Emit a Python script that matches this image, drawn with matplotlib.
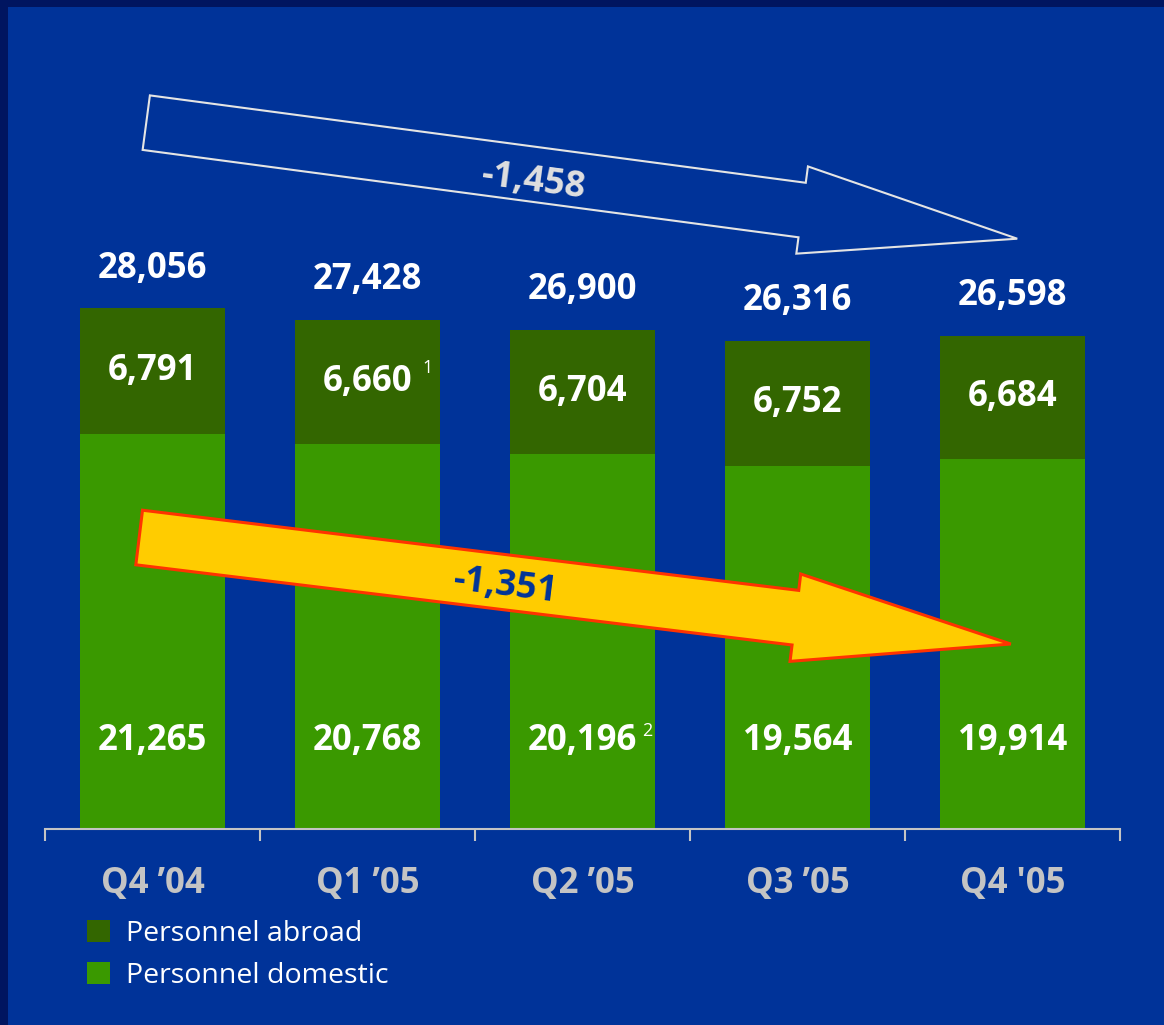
import numpy as np
import matplotlib
matplotlib.use("Agg")
import matplotlib.pyplot as plt
from matplotlib.patches import Rectangle, Polygon, Patch
from matplotlib.transforms import IdentityTransform

# Headcount per quarter
quarters = ['Q4 \u201904', 'Q1 \u201905', 'Q2 \u201905', 'Q3 \u201905', "Q4 '05"]
domestic = [21265, 20768, 20196, 19564, 19914]
abroad = [6791, 6660, 6704, 6752, 6684]
totals = [28056, 27428, 26900, 26316, 26598]
notes_abroad = ['', '1', '', '', '']
notes_domestic = ['', '', '2', '', '']
series_names = ['Personnel abroad', 'Personnel domestic']

# colours
BORDER = '#001560'
BG = '#003399'
C_ABROAD = '#336600'
C_DOMESTIC = '#3a9900'
GREY = '#c4c4c4'

plt.rcParams['font.family'] = ['Open Sans', 'DejaVu Sans']

W, H = 1164, 1025
fig = plt.figure(figsize=(W / 100, H / 100), dpi=100, facecolor=BORDER)
# inner slide area (dark frame only on top and left)
fig.patches.append(Rectangle((8 / W, 0), 1, 1 - 7 / H, transform=fig.transFigure,
                             facecolor=BG, edgecolor='none', zorder=-1))

ax = fig.add_axes([45 / W, (H - 828.5) / H, 1075 / W, (828.5 - 10) / H])
ax.set_facecolor('none')
x = np.arange(len(quarters))
width = 0.67

ax.bar(x, domestic, width, color=C_DOMESTIC, zorder=2)
ax.bar(x, abroad, width, bottom=domestic, color=C_ABROAD, zorder=2)
ax.set_xlim(-0.5, len(quarters) - 0.5)
ax.set_ylim(0, 44160)

for s in ['top', 'left', 'right']:
    ax.spines[s].set_visible(False)
ax.spines['bottom'].set_color(GREY)
ax.spines['bottom'].set_linewidth(1.5)
ax.set_yticks([])
ax.set_xticks(x)
ax.set_xticklabels(quarters, fontsize=25, fontweight='bold', color=GREY)
ax.tick_params(axis='x', which='major', length=0, pad=27)
ax.set_xticks(np.arange(-0.5, len(quarters), 1), minor=True)
ax.tick_params(axis='x', which='minor', length=8.6, width=1.5, color=GREY)

lbl = dict(color='white', fontsize=25, fontweight='bold', ha='center', va='center', zorder=5)
for i in x:
    ax.text(i, totals[i] + 2150, f'{totals[i]:,}', **lbl)
    ya = domestic[i] + abroad[i] / 2
    ax.text(i, ya, f'{abroad[i]:,}', **lbl)
    ax.text(i, 4700, f'{domestic[i]:,}', **lbl)
    if notes_abroad[i]:
        ax.text(i + 0.28, ya + 750, notes_abroad[i], color='white', fontsize=13,
                ha='center', va='center', zorder=5)
    if notes_domestic[i]:
        ax.text(i + 0.30, 4700 + 550, notes_domestic[i], color='white', fontsize=13,
                ha='center', va='center', zorder=5)


def block_arrow(tail, tip, face, edge, lw):
    # arrow shape built in pixel space so the head keeps its proportions
    t = ax.transData.transform(tail)
    p = ax.transData.transform(tip)
    d = (p - t) / np.hypot(*(p - t))
    n = np.array([-d[1], d[0]])
    w, h, L = 27.5, 44, 217
    b = p - d * L
    pts = [t + n * w, b + n * w, b + n * h, p, b - n * h, b - n * w, t - n * w]
    ax.add_patch(Polygon(pts, closed=True, transform=IdentityTransform(),
                         facecolor=face, edgecolor=edge, linewidth=lw, zorder=3))
    return np.degrees(np.arctan2(d[1], d[0]))


ang1 = block_arrow((-0.029, 38082), (4.022, 31821), 'none', '#e4e4e4', 1.5)
ang2 = block_arrow((-0.062, 15700), (3.992, 9954), '#ffcc00', '#ff3300', 2.2)

ax.text(1.774, 34900, f'{totals[-1] - totals[0]:,}', color='#e0e0e0', fontsize=26,
        fontweight='bold', rotation=ang1, rotation_mode='anchor',
        ha='center', va='center', zorder=5)
ax.text(1.644, 13083, f'{domestic[-1] - domestic[0]:,}', color='#003399', fontsize=26,
        fontweight='bold', rotation=ang2, rotation_mode='anchor',
        ha='center', va='center', zorder=5)

handles = [Patch(facecolor=C_ABROAD, edgecolor='none'),
           Patch(facecolor=C_DOMESTIC, edgecolor='none')]
leg = fig.legend(handles, series_names, loc='upper left',
                 bbox_to_anchor=(87 / W, (H - 920) / H), frameon=False,
                 fontsize=20.5, handlelength=0.81, handleheight=0.81,
                 handletextpad=0.56, labelspacing=0.49, borderpad=0, borderaxespad=0)
for t in leg.get_texts():
    t.set_color('white')

fig.savefig('out.png', dpi=100, facecolor=BORDER)
